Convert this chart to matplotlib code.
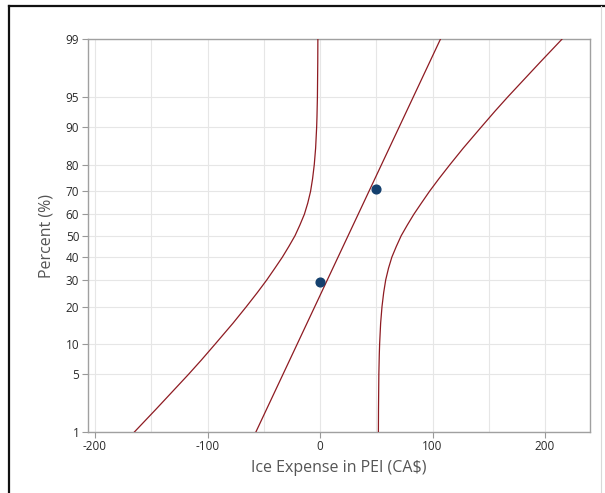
import numpy as np
import matplotlib
matplotlib.use("Agg")
import matplotlib.pyplot as plt
from matplotlib.lines import Line2D
from statistics import NormalDist

# Observed data (expense, plotting position in %)
obs_x = [0, 50]
obs_pct = [29.2, 70.8]

# Fitted normal line: expense at 1% and 99%
fit_pct = [1, 99]
fit_x = [-57, 107]

# Lower confidence limit
lower_pct = [1, 2, 3, 5, 7, 10, 15, 20, 25, 30, 35, 40, 45, 50, 55, 60,
             65, 70, 75, 80, 85, 90, 92, 95, 98, 99]
lower_x = [-165, -145.6, -133.5, -117, -105.6, -93, -77.3, -65.5, -55.7,
           -47.3, -40.1, -33.4, -27.6, -22.2, -17.9, -13.9, -10.9, -8.4,
           -6.6, -5.1, -3.9, -3.0, -2.7, -2.3, -2.0, -1.9]

# Upper confidence limit
upper_pct = [1, 2, 5, 8, 10, 15, 20, 25, 30, 35, 40, 45, 50, 55, 60, 65,
             70, 75, 80, 85, 90, 93, 95, 97, 98, 99]
upper_x = [51.9, 52.0, 52.3, 52.7, 53.0, 53.9, 55.1, 56.6, 58.4, 60.9, 63.9,
           67.9, 72.2, 77.6, 83.4, 90.1, 97.3, 105.7, 115.5, 127.3, 143.0,
           155.6, 167.0, 183.5, 195.6, 215.0]

y_ticks = [1, 5, 10, 20, 30, 40, 50, 60, 70, 80, 90, 95, 99]
x_ticks = [-200, -100, 0, 100, 200]

_nd = NormalDist()


def _probit(p):
    p = np.asarray(p, dtype=float)
    out = np.full(p.shape, np.nan)
    ok = (p > 0) & (p < 100)
    out[ok] = [_nd.inv_cdf(v / 100.0) for v in p[ok]]
    return out


def _inv_probit(z):
    z = np.asarray(z, dtype=float)
    out = np.array([_nd.cdf(v) * 100.0 if np.isfinite(v) else np.nan
                    for v in z.ravel()]).reshape(z.shape)
    return out


plt.rcParams['font.family'] = ['Open Sans', 'DejaVu Sans']
plt.rcParams['axes.unicode_minus'] = False

fig = plt.figure(figsize=(6.05, 4.93), dpi=100)
ax = fig.add_axes([87.7 / 605, 1 - 432 / 493, (590 - 87.7) / 605, (432 - 39.3) / 493])

ax.set_yscale('function', functions=(_probit, _inv_probit))
ax.set_ylim(1, 99)
ax.set_xlim(-206.5, 240)

line_col = '#8e1b22'
ax.plot(lower_x, lower_pct, color=line_col, lw=0.9, zorder=3)
ax.plot(upper_x, upper_pct, color=line_col, lw=0.9, zorder=3)
ax.plot(fit_x, fit_pct, color=line_col, lw=0.9, zorder=3)
ax.plot(obs_x, obs_pct, 'o', color='#14406e', ms=6.3, mec='#14406e', zorder=4)

ax.set_yticks(y_ticks)
ax.set_yticklabels([str(v) for v in y_ticks])
ax.yaxis.set_minor_locator(matplotlib.ticker.NullLocator())
ax.set_xticks(x_ticks)
ax.set_xticks(np.arange(-150, 240, 100), minor=True)

ax.grid(True, which='both', color='#e6e6e6', lw=0.8, zorder=0)
ax.set_axisbelow(True)
ax.tick_params(axis='both', which='major', length=4, width=0.8, color='#999999',
               labelsize=8.5, labelcolor='#2a2a2a', pad=2)
ax.tick_params(axis='x', which='minor', length=0)
for s in ax.spines.values():
    s.set_color('#a0a0a0')
    s.set_linewidth(1.0)

ax.set_xlabel('Ice Expense in PEI (CA$)', fontsize=11.5, color='#555555', labelpad=5)
ax.set_ylabel('Percent (%)', fontsize=11.5, color='#555555', labelpad=8)

# outer frame: dark top and left edges, faint right edge
fy = 1 - 6 / 493
fx0 = 8.5 / 605
fx1 = 601 / 605
fig.add_artist(Line2D([fx0, 1.0], [fy, fy], transform=fig.transFigure,
                      color='#111111', lw=1.6))
fig.add_artist(Line2D([fx0, fx0], [0, fy], transform=fig.transFigure,
                      color='#111111', lw=1.6))
fig.add_artist(Line2D([fx1, fx1], [0, fy], transform=fig.transFigure,
                      color='#d8d8d8', lw=0.8))

fig.savefig('out.png', dpi=100)
